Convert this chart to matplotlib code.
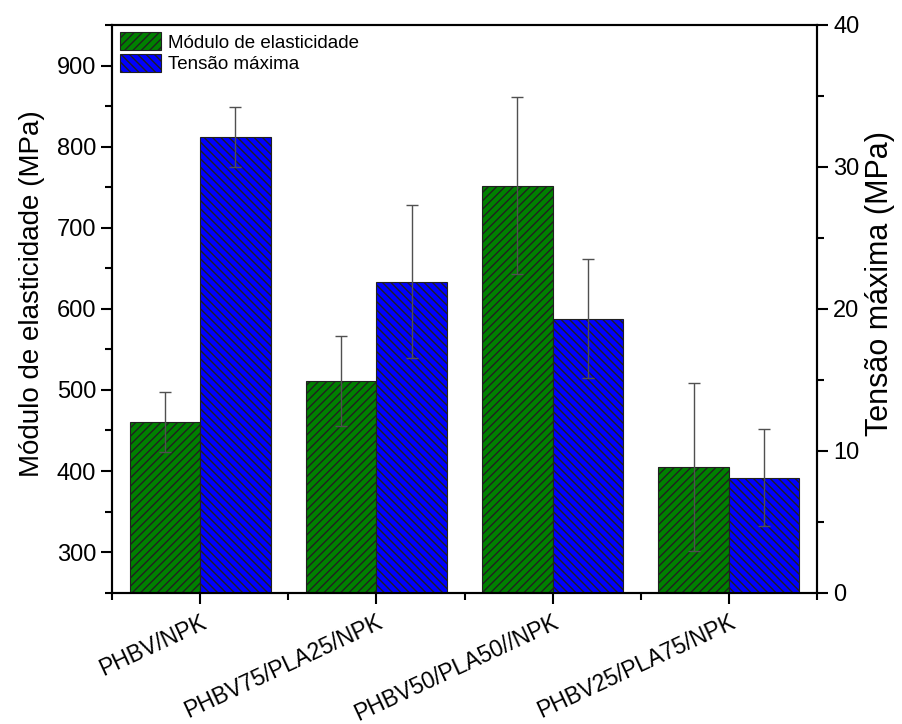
import numpy as np
import matplotlib
matplotlib.use("Agg")
import matplotlib.pyplot as plt
import matplotlib.transforms as mtransforms
from matplotlib.ticker import MultipleLocator

plt.rcParams['font.family'] = ['Liberation Sans', 'DejaVu Sans']
plt.rcParams['hatch.linewidth'] = 1.0
plt.rcParams['hatch.color'] = 'black'

samples = ["PHBV/NPK", "PHBV75/PLA25/NPK", "PHBV50/PLA50//NPK", "PHBV25/PLA75/NPK"]
modulo = [460, 511, 752, 405]          # MPa
modulo_err = [37, 56, 109, 104]
tensao = [32.1, 21.9, 19.3, 8.1]       # MPa
tensao_err = [2.1, 5.4, 4.2, 3.4]

x = np.arange(1, len(samples) + 1)
w = 0.4

fig = plt.figure(figsize=(9.02, 7.24), dpi=100)
ax = fig.add_axes([0.1242, 0.1814, 0.7816, 0.7841])
ax2 = ax.twinx()

err_kw = dict(ecolor='#505050', elinewidth=1.0, capsize=4.3, capthick=1.0)

b1 = ax.bar(x - w / 2, modulo, width=w, yerr=modulo_err, color='#008000',
            edgecolor='#202020', linewidth=0.8, hatch='////',
            label='Módulo de elasticidade', error_kw=err_kw)
b2 = ax2.bar(x + w / 2, tensao, width=w, yerr=tensao_err, color='#0000FF',
             edgecolor='#202020', linewidth=0.8, hatch='\\\\\\\\',
             label='Tensão máxima', error_kw=err_kw)

ax.set_xlim(0.5, 4.5)
ax.set_ylim(250, 950)
ax2.set_ylim(0, 40)

ax.set_xticks(x)
ax.set_xticklabels(samples, rotation=25, ha='right', rotation_mode='anchor', fontsize=16.5)
# nudge the rotated labels so their ends sit just past the ticks
shift = mtransforms.ScaledTranslation(0.08, 0, fig.dpi_scale_trans)
for lbl in ax.get_xticklabels():
    lbl.set_transform(lbl.get_transform() + shift)
ax.xaxis.set_minor_locator(MultipleLocator(0.5))
ax.yaxis.set_minor_locator(MultipleLocator(50))
ax.set_yticks(np.arange(300, 901, 100))
ax2.yaxis.set_major_locator(MultipleLocator(10))
ax2.yaxis.set_minor_locator(MultipleLocator(5))

for a in (ax, ax2):
    a.tick_params(which='major', direction='out', length=8, width=1.5, labelsize=17)
    a.tick_params(which='minor', direction='out', length=5, width=1.5)
    for s in a.spines.values():
        s.set_linewidth(1.5)
ax.tick_params(axis='x', which='major', pad=5, labelsize=16.5)

ax.set_ylabel('Módulo de elasticidade (MPa)', fontsize=20)
ax.yaxis.set_label_coords(-0.095, 0.527)
ax2.set_ylabel('Tensão máxima (MPa)', fontsize=22)
ax2.yaxis.set_label_coords(1.068, 0.545)

ax2.legend([b1, b2], ['Módulo de elasticidade', 'Tensão máxima'], loc='upper left',
           frameon=False, fontsize=13.5, handlelength=2.2, handleheight=1.07,
           labelspacing=0.12, borderaxespad=0.2, borderpad=0.2, handletextpad=0.4)

fig.savefig('out.png', dpi=100)
